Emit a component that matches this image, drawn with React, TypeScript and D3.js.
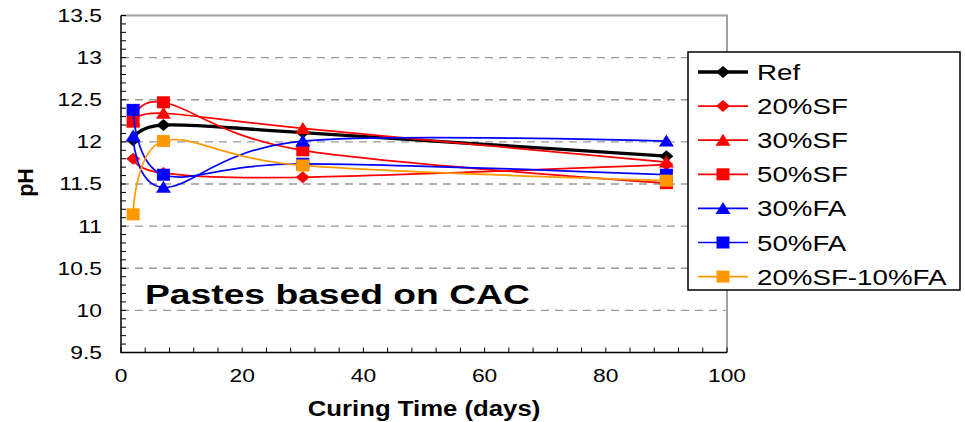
import React from "react";
import * as d3 from "d3";

// Curing ages (days) at which pH was measured
const days = [2, 7, 30, 90];

// pH of each paste at those ages
const refPH = [12.02, 12.2, 12.11, 11.83];
const sf20PH = [11.8, 11.63, 11.58, 11.73];
const sf30PH = [12.25, 12.34, 12.16, 11.76];
const sf50PH = [12.24, 12.47, 11.9, 11.51];
const fa30PH = [12.07, 11.46, 12.01, 12.01];
const fa50PH = [12.38, 11.61, 11.74, 11.61];
const sf20fa10PH = [11.14, 12.01, 11.72, 11.54];

const seriesNames = ["Ref", "20%SF", "30%SF", "50%SF", "30%FA", "50%FA", "20%SF-10%FA"];

const yTickValues = [9.5, 10, 10.5, 11, 11.5, 12, 12.5, 13, 13.5];
const xTickValues = [0, 20, 40, 60, 80, 100];

const titleText = "Pastes based on CAC";
const xAxisTitle = "Curing Time (days)";
const yAxisTitle = "pH";

type Marker = "diamond" | "triangle" | "square";

const seriesStyles: { color: string; marker: Marker; width: number }[] = [
  { color: "#000000", marker: "diamond", width: 3.3 },
  { color: "#ff0000", marker: "diamond", width: 1.7 },
  { color: "#ff0000", marker: "triangle", width: 1.7 },
  { color: "#ff0000", marker: "square", width: 1.7 },
  { color: "#0000ff", marker: "triangle", width: 1.7 },
  { color: "#0000ff", marker: "square", width: 1.7 },
  { color: "#ff9900", marker: "square", width: 1.7 },
];

const seriesValues = [refPH, sf20PH, sf30PH, sf50PH, fa30PH, fa50PH, sf20fa10PH];

const W = 965;
const H = 422;
const plot = { left: 121, right: 727, top: 15.5, bottom: 352.5 };
const FONT = "'Liberation Sans', Arial, Helvetica, sans-serif";

function markerPath(type: Marker): string {
  const p = d3.path();
  if (type === "square") {
    p.rect(-6.5, -6, 13, 12);
  } else if (type === "diamond") {
    p.moveTo(0, -6);
    p.lineTo(7, 0);
    p.lineTo(0, 6);
    p.lineTo(-7, 0);
    p.closePath();
  } else {
    p.moveTo(0, -6.5);
    p.lineTo(7.5, 5.5);
    p.lineTo(-7.5, 5.5);
    p.closePath();
  }
  return p.toString();
}

export default function App() {
  const x = d3.scaleLinear().domain([0, 100]).range([plot.left, plot.right]);
  const y = d3.scaleLinear().domain([9.5, 13.5]).range([plot.bottom, plot.top]);

  const line = d3
    .line<[number, number]>()
    .x((d) => x(d[0]))
    .y((d) => y(d[1]))
    .curve(d3.curveCatmullRom.alpha(0));

  const yMinor = d3.range(95, 136).map((v) => v / 10);
  const xMinor = d3.range(0, 101, 4);
  const grid = yTickValues.filter((v) => v > 9.5 && v < 13.5);

  const legend = { x: 688, y: 52, w: 272, h: 238, row0: 72, step: 34.1 };

  return (
    <svg
      width={W}
      height={H}
      viewBox={`0 0 ${W} ${H}`}
      style={{ position: "absolute", left: 0, top: 0, background: "#ffffff" }}
      fontFamily={FONT}
    >
      <rect x={0} y={0} width={W} height={H} fill="#ffffff" />

      {/* gridlines */}
      {grid.map((v) => (
        <line
          key={`g${v}`}
          x1={plot.left}
          x2={plot.right}
          y1={y(v)}
          y2={y(v)}
          stroke="#999999"
          strokeWidth={1.3}
          strokeDasharray="8,6"
        />
      ))}

      {/* plot frame: top and right */}
      <path
        d={`M${plot.left},${plot.top}H${plot.right}V${plot.bottom}`}
        fill="none"
        stroke="#a0a0a0"
        strokeWidth={2}
      />

      {/* axes */}
      <path
        d={`M${plot.left},${plot.top}V${plot.bottom}H${plot.right}`}
        fill="none"
        stroke="#000000"
        strokeWidth={1.5}
      />
      {yMinor.map((v) => (
        <line key={`yt${v}`} x1={plot.left} x2={plot.left + 5} y1={y(v)} y2={y(v)} stroke="#000" strokeWidth={1} />
      ))}
      {xMinor.map((v) => (
        <line key={`xt${v}`} x1={x(v)} x2={x(v)} y1={plot.bottom} y2={plot.bottom - 5} stroke="#000" strokeWidth={1} />
      ))}

      {/* tick labels */}
      {yTickValues.map((v) => (
        <text
          key={`yl${v}`}
          transform={`translate(102,${y(v) + 6.4}) scale(1.27,1)`}
          textAnchor="end"
          fontSize={18}
          fill="#000"
        >
          {String(v)}
        </text>
      ))}
      {xTickValues.map((v) => (
        <text
          key={`xl${v}`}
          transform={`translate(${x(v)},382) scale(1.27,1)`}
          textAnchor="middle"
          fontSize={18}
          fill="#000"
        >
          {String(v)}
        </text>
      ))}

      {/* axis titles */}
      <text
        transform={`translate(${(plot.left + plot.right) / 2},416) scale(1.17,1)`}
        textAnchor="middle"
        fontSize={22}
        fontWeight="bold"
        fill="#000"
      >
        {xAxisTitle}
      </text>
      <text
        transform="translate(33,182.5) rotate(-90)"
        textAnchor="middle"
        fontSize={21.5}
        fontWeight="bold"
        fill="#000"
      >
        {yAxisTitle}
      </text>

      {/* series */}
      {seriesValues.map((vals, i) => {
        const st = seriesStyles[i];
        const pts = days.map((d, j) => [d, vals[j]] as [number, number]);
        return (
          <g key={seriesNames[i]}>
            <path d={line(pts) || ""} fill="none" stroke={st.color} strokeWidth={st.width} />
            {pts.map((p, j) => (
              <path
                key={j}
                d={markerPath(st.marker)}
                transform={`translate(${x(p[0])},${y(p[1])})`}
                fill={st.color}
              />
            ))}
          </g>
        );
      })}

      {/* annotation */}
      <text
        transform="translate(145,304) scale(1.33,1)"
        fontSize={28}
        fontWeight="bold"
        fill="#000"
      >
        {titleText}
      </text>

      {/* legend */}
      <rect
        x={legend.x}
        y={legend.y}
        width={legend.w}
        height={legend.h}
        fill="#ffffff"
        stroke="#000000"
        strokeWidth={1.5}
      />
      {seriesNames.map((name, i) => {
        const st = seriesStyles[i];
        const cy = legend.row0 + i * legend.step;
        return (
          <g key={`lg${name}`}>
            <line x1={698} x2={748} y1={cy} y2={cy} stroke={st.color} strokeWidth={st.width} />
            <path d={markerPath(st.marker)} transform={`translate(723,${cy})`} fill={st.color} />
            <text
              transform={`translate(757,${cy + 8}) scale(1.26,1)`}
              fontSize={22}
              fill="#000"
            >
              {name}
            </text>
          </g>
        );
      })}
    </svg>
  );
}
